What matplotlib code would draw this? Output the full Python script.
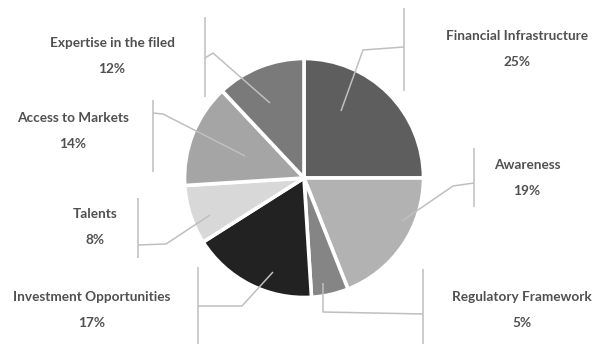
import matplotlib.pyplot as plt

# data
labels = ['Financial Infrastructure', 'Awareness', 'Regulatory Framework',
          'Investment Opportunities', 'Talents', 'Access to Markets',
          'Expertise in the filed']
shares = [25, 19, 5, 17, 8, 14, 12]
colors = ['#5e5e5e', '#b2b2b2', '#858585', '#222222', '#d8d8d8', '#a5a5a5', '#7a7a7a']

# label layout in pixels (y down): label center, leader polyline, bracket x / y range
label_pos = [(517, 36), (527, 165), (522, 297), (92, 297), (95, 214), (73, 118), (112, 43)]
leaders = [
    [(341, 111), (363, 50), (404, 47)],
    [(402, 221), (453, 186), (474, 183)],
    [(323, 283), (323, 312), (423, 314)],
    [(273, 272), (242, 306), (198, 306)],
    [(210, 215), (166, 244), (138, 245)],
    [(245, 156), (163, 114), (153, 113)],
    [(270, 103), (213, 53), (205, 58)],
]
brackets = [(404, 8, 91), (474, 148, 207), (423, 269, 344), (198, 267, 344),
            (138, 198, 258), (153, 100, 172), (205, 17, 97)]

W, H = 593, 344
fig = plt.figure(figsize=(W / 100, H / 100), dpi=100)
ax = fig.add_axes([0, 0, 1, 1])

# y axis is inverted, so start at -90 and go counterclockwise in data -> clockwise on screen
ax.pie(shares, colors=colors, center=(304, 178), radius=119.5, startangle=-90,
       counterclock=True, wedgeprops=dict(edgecolor='white', linewidth=2.6),
       frame=True)
ax.set_xlim(0, W)
ax.set_ylim(H, 0)
ax.set_aspect('equal')
ax.axis('off')

line_c = '#bfbfbf'
for pts, (bx, y0, y1) in zip(leaders, brackets):
    xs = [p[0] for p in pts]
    ys = [p[1] for p in pts]
    ax.plot(xs, ys, color=line_c, lw=1.1, solid_capstyle='butt')
    ax.plot([bx, bx], [y0, y1], color=line_c, lw=1.1, solid_capstyle='butt')

txt_c = '#505050'
for lab, val, (x, y) in zip(labels, shares, label_pos):
    ax.text(x, y, lab, ha='center', va='center', fontsize=9.8, fontweight='bold',
            family='Lato', color=txt_c)
    ax.text(x, y + 26, f'{val}%', ha='center', va='center', fontsize=9.8,
            fontweight='bold', family='Lato', color=txt_c)

fig.savefig('out.png', dpi=100)
